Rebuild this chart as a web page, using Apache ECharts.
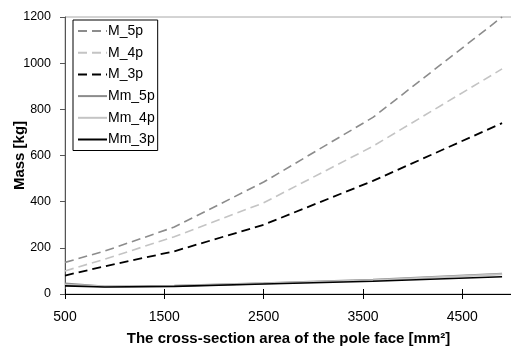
<!DOCTYPE html>
<html>
<head>
<meta charset="utf-8">
<script src="https://cdn.jsdelivr.net/npm/echarts@6/dist/echarts.min.js"></script>
<style>
  html, body { margin: 0; padding: 0; background: #fff; }
  #chart { width: 511px; height: 349px; }
</style>
</head>
<body>
<div id="chart"></div>
<script>
// Pole face cross-section areas [mm^2]
const areas = [500, 900, 1600, 2500, 3600, 4900];

// Total mass [kg]
const M_5p = [137, 186, 290, 485, 765, 1200];
const M_4p = [100, 151, 248, 395, 640, 975];
const M_3p = [80, 120, 185, 300, 490, 740];

// Magnet mass [kg]
const Mm_5p = [45, 33, 36, 47, 62, 88];
const Mm_4p = [40, 32, 35, 45, 60, 86];
const Mm_3p = [35, 30, 33, 43, 55, 75];

const xTicks = [500, 1500, 2500, 3500, 4500];
const yTicks = [0, 200, 400, 600, 800, 1000, 1200];

const pairs = (ys) => areas.map((x, i) => [x, ys[i]]);

const font = 'Liberation Sans, Arial, sans-serif';
const dash = [9, 5];

function line(name, ys, color, dashed, width) {
  return {
    name: name,
    type: 'line',
    data: pairs(ys),
    showSymbol: false,
    symbol: 'none',
    lineStyle: { color: color, width: width, type: dashed ? dash : 'solid' },
    itemStyle: { color: color },
    animation: false
  };
}

const chart = echarts.init(document.getElementById('chart'), null, { renderer: 'canvas' });

chart.setOption({
  backgroundColor: '#fff',
  animation: false,
  grid: {
    left: 65, top: 17, width: 447, height: 277,
    outerBoundsMode: 'none', containLabel: false,
    show: true, borderColor: '#a8a8a8', borderWidth: 1, backgroundColor: 'transparent'
  },
  legend: {
    orient: 'vertical',
    left: 73, top: 20,
    padding: [4, 3, 4, 4],
    itemWidth: 29, itemHeight: 14, itemGap: 7.7,
    backgroundColor: '#fff',
    borderColor: '#000', borderWidth: 1,
    itemStyle: { opacity: 0 },
    textStyle: { fontFamily: font, fontSize: 14, color: '#000', padding: [0, 0, 0, -4] },
    data: ['M_5p', 'M_4p', 'M_3p', 'Mm_5p', 'Mm_4p', 'Mm_3p']
  },
  xAxis: [{
    type: 'value', min: 500, max: 5000,
    name: 'The cross-section area of the pole face [mm\u00B2]',
    nameLocation: 'middle', nameGap: 37, nameMoveOverlap: false,
    nameTextStyle: { fontFamily: font, fontSize: 15, fontWeight: 'bold', color: '#000' },
    axisLine: { show: true, lineStyle: { color: '#000', width: 1 } },
    axisTick: { show: true, length: 5, customValues: xTicks, lineStyle: { color: '#000' } },
    axisLabel: { customValues: xTicks, margin: 16, fontFamily: font, fontSize: 14, color: '#000', formatter: (v) => String(v) },
    splitLine: { show: false }
  }, {
    type: 'value', min: 500, max: 5000, position: 'bottom',
    axisLine: { show: false },
    axisTick: { show: true, inside: true, length: 5, customValues: xTicks, lineStyle: { color: '#000' } },
    axisLabel: { show: false },
    splitLine: { show: false }
  }],
  yAxis: {
    type: 'value', min: 0, max: 1200, interval: 200,
    name: 'Mass [kg]',
    nameLocation: 'middle', nameGap: 38, nameMoveOverlap: false,
    nameTextStyle: { fontFamily: font, fontSize: 15, fontWeight: 'bold', color: '#000' },
    axisLine: { show: true, lineStyle: { color: '#555', width: 1 } },
    axisTick: { show: true, length: 5, lineStyle: { color: '#555' } },
    axisLabel: { margin: 14, fontFamily: font, fontSize: 12.5, color: '#000', formatter: (v) => String(v) },
    splitLine: { show: false }
  },
  series: [
    line('M_5p', M_5p, '#8c8c8c', true, 1.6),
    line('M_4p', M_4p, '#c4c4c4', true, 1.6),
    line('M_3p', M_3p, '#000000', true, 1.8),
    line('Mm_5p', Mm_5p, '#8c8c8c', false, 2),
    line('Mm_4p', Mm_4p, '#c4c4c4', false, 2),
    line('Mm_3p', Mm_3p, '#000000', false, 1.6)
  ]
});
</script>
</body>
</html>
